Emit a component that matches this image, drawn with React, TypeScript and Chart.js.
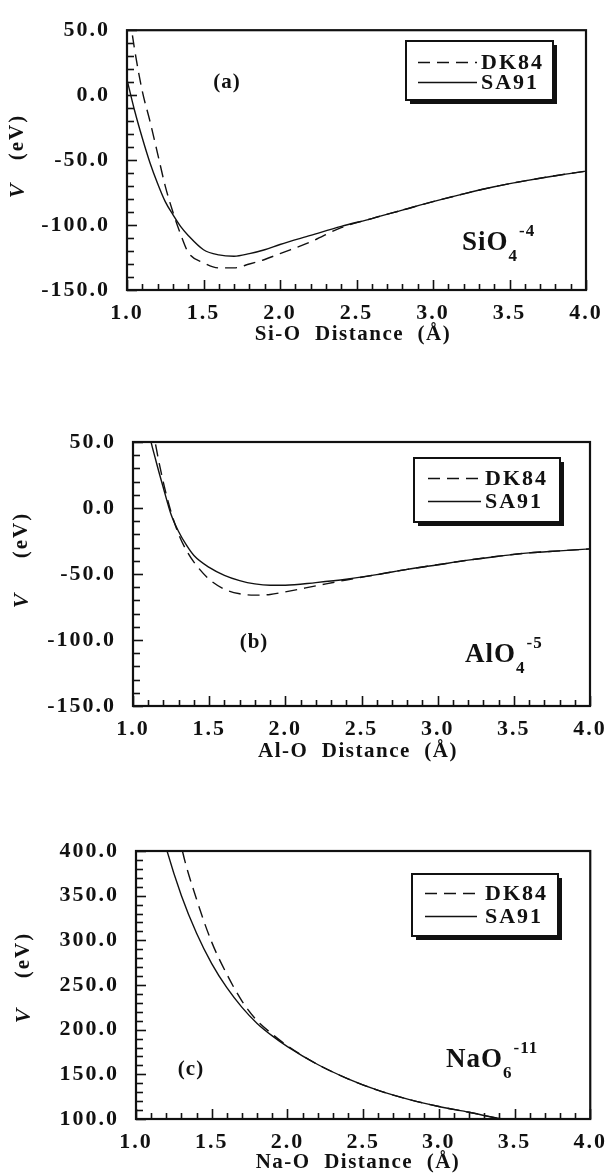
import React, { useEffect, useRef } from "react";
import { Chart, registerables } from "chart.js";

Chart.register(...registerables);

// ---------- data ----------
// Panel (a): Si-O
const siX = [1.0, 1.05, 1.1, 1.15, 1.2, 1.25, 1.3, 1.35, 1.4, 1.5, 1.6, 1.7, 1.8, 1.9, 2.0, 2.2, 2.4, 2.6, 2.8, 3.0, 3.2, 3.4, 3.6, 3.8, 4.0];
const siSA91 = [12, -12, -33, -52, -68, -82, -92, -101, -108, -119, -123, -124, -122, -119, -115, -108, -101, -95, -88.5, -82, -76, -70.5, -66, -62, -58.5];
const siDK84 = [75, 35, 3, -20, -45, -70, -90, -107, -121, -129, -133, -133, -130, -126.5, -122, -113, -102, -95, -88.5, -82, -76, -70.5, -66, -62, -58.5];

// Panel (b): Al-O
const alX = [1.0, 1.05, 1.1, 1.15, 1.2, 1.25, 1.3, 1.35, 1.4, 1.5, 1.6, 1.7, 1.8, 1.9, 2.0, 2.2, 2.4, 2.6, 2.8, 3.0, 3.2, 3.4, 3.6, 3.8, 4.0];
const alSA91 = [150, 100, 60, 36, 15, -5, -18, -28, -36, -45, -51, -55, -57.5, -58.5, -58.5, -56.5, -54, -50.5, -46.5, -43, -39.5, -36.5, -34, -32.5, -31];
const alDK84 = [220, 140, 82, 47, 19, -3, -20, -32, -41, -54, -61.5, -65, -66, -65.5, -63.5, -59, -54.5, -50.5, -46.5, -43, -39.5, -36.5, -34, -32.5, -31];

// Panel (c): Na-O
const naX = [1.0, 1.1, 1.2, 1.3, 1.4, 1.5, 1.6, 1.7, 1.8, 1.9, 2.0, 2.2, 2.4, 2.6, 2.8, 3.0, 3.2, 3.4, 3.6, 3.8, 4.0];
const naSA91 = [560, 470, 403, 350, 308, 274, 247, 225, 207, 193, 181, 161, 145, 132, 122, 114, 107.5, 100.5, 95, 90, 86];
const naDK84 = [800, 620, 500, 405, 346, 298, 262, 232, 210, 195, 182, 161, 145, 132, 122, 114, 107.5, 100.5, 95, 90, 86];

// tick labels
const xTicks = [1.0, 1.5, 2.0, 2.5, 3.0, 3.5, 4.0];
const yTicksAB = [-150, -100, -50, 0, 50];
const yTicksC = [100, 150, 200, 250, 300, 350, 400];

const seriesNames = ["DK84", "SA91"];

// ---------- styles / layout ----------
const INK = "#111111";
const SERIF = "'Liberation Serif', 'Times New Roman', serif";
const W = 614;
const X_AXIS_H = 40;

type Spec = {
  canvasTop: number;
  height: number;
  left: number;
  top: number;
  right: number;
  bottom: number;
  xs: number[];
  dk: number[];
  sa: number[];
  yTicks: number[];
  yMinorStep: number;
  xTitle: string;
  xTitleX: number;
  xTitleY: number;
  yTitleX: number;
  vY: number;
  evY: number;
  legend: { x0: number; y0: number; x1: number; y1: number; row1: number; row2: number; lx0: number; lx1: number; tx: number };
  tag: { text: string; x: number; y: number };
  formula: { base: string; sub: string; sup: string; x: number; y: number };
};

const panels: Spec[] = [
  {
    canvasTop: 0, height: 400, left: 127, top: 21, right: 586, bottom: 290,
    xs: siX, dk: siDK84, sa: siSA91, yTicks: yTicksAB, yMinorStep: 10,
    xTitle: "Si-O  Distance  (Å)", xTitleX: 353, xTitleY: 335,
    yTitleX: 18, vY: 190, evY: 137,
    legend: { x0: 406, y0: 41, x1: 553, y1: 100, row1: 62, row2: 82, lx0: 418, lx1: 477, tx: 481 },
    tag: { text: "(a)", x: 227, y: 83 },
    formula: { base: "SiO", sub: "4", sup: "-4", x: 462, y: 250 },
  },
  {
    canvasTop: 400, height: 400, left: 133, top: 442, right: 590, bottom: 706,
    xs: alX, dk: alDK84, sa: alSA91, yTicks: yTicksAB, yMinorStep: 10,
    xTitle: "Al-O  Distance  (Å)", xTitleX: 358, xTitleY: 752,
    yTitleX: 22, vY: 600, evY: 535,
    legend: { x0: 414, y0: 458, x1: 560, y1: 522, row1: 478, row2: 501, lx0: 428, lx1: 481, tx: 485 },
    tag: { text: "(b)", x: 254, y: 643 },
    formula: { base: "AlO", sub: "4", sup: "-5", x: 465, y: 662 },
  },
  {
    canvasTop: 800, height: 373, left: 136, top: 851, right: 592, bottom: 1119,
    xs: naX, dk: naDK84, sa: naSA91, yTicks: yTicksC, yMinorStep: 10,
    xTitle: "Na-O  Distance  (Å)", xTitleX: 358, xTitleY: 1163,
    yTitleX: 24, vY: 1015, evY: 955,
    legend: { x0: 412, y0: 874, x1: 558, y1: 936, row1: 893, row2: 916, lx0: 425, lx1: 477, tx: 485 },
    tag: { text: "(c)", x: 191, y: 1070 },
    formula: { base: "NaO", sub: "6", sup: "-11", x: 446, y: 1067 },
  },
];

function decorPlugin(p: Spec) {
  const T = p.canvasTop;
  return {
    id: "decor",
    beforeDraw(chart: any) {
      (chart.ctx as any).letterSpacing = "2px";
    },
    afterDraw(chart: any) {
      const ctx = chart.ctx as CanvasRenderingContext2D;
      const { left, top, right, bottom } = chart.chartArea;
      const xs = chart.scales.x;
      const ys = chart.scales.y;
      ctx.save();
      ctx.strokeStyle = INK;
      ctx.fillStyle = INK;

      // inward tick marks
      ctx.lineWidth = 1.6;
      const xmin = xs.min, xmax = xs.max;
      for (let i = 0; ; i++) {
        const v = xmin + i * 0.1;
        if (v > xmax + 1e-9) break;
        const px = Math.round(xs.getPixelForValue(v)) + 0.5;
        const major = Math.abs(v * 2 - Math.round(v * 2)) < 1e-6;
        const len = major ? 10 : 6;
        ctx.beginPath();
        ctx.moveTo(px, bottom);
        ctx.lineTo(px, bottom - len);
        ctx.stroke();
      }
      const ymin = ys.min, ymax = ys.max;
      for (let i = 0; ; i++) {
        const v = ymin + i * p.yMinorStep;
        if (v > ymax + 1e-9) break;
        const py = Math.round(ys.getPixelForValue(v)) + 0.5;
        const major = Math.abs(v / 50 - Math.round(v / 50)) < 1e-6;
        const len = major ? 10 : 7;
        ctx.beginPath();
        ctx.moveTo(left, py);
        ctx.lineTo(left + len, py);
        ctx.stroke();
      }

      // frame
      ctx.lineWidth = 2.2;
      ctx.strokeRect(left, top, right - left, bottom - top);

      // legend box with shadow
      const L = p.legend;
      const y0 = L.y0 - T, y1 = L.y1 - T;
      ctx.fillStyle = "#ffffff";
      ctx.fillRect(L.x0, y0, L.x1 - L.x0, y1 - y0);
      ctx.fillStyle = INK;
      ctx.fillRect(L.x1, y0 + 4, 4, y1 - y0);
      ctx.fillRect(L.x0 + 4, y1, L.x1 - L.x0, 4);
      ctx.lineWidth = 2;
      ctx.strokeRect(L.x0, y0, L.x1 - L.x0, y1 - y0);

      const dsets = chart.data.datasets;
      const rows = [L.row1 - T, L.row2 - T];
      (ctx as any).letterSpacing = "2px";
      ctx.font = `bold 22px ${SERIF}`;
      ctx.textBaseline = "middle";
      ctx.textAlign = "left";
      dsets.forEach((d: any, i: number) => {
        ctx.save();
        ctx.lineWidth = 1.4;
        ctx.setLineDash(d.borderDash || []);
        ctx.beginPath();
        ctx.moveTo(L.lx0, rows[i] + 0.5);
        ctx.lineTo(L.lx1, rows[i] + 0.5);
        ctx.stroke();
        ctx.restore();
        ctx.fillText(d.label, L.tx, rows[i] + 1);
      });

      // panel tag
      (ctx as any).letterSpacing = "1px";
      ctx.font = `bold 21px ${SERIF}`;
      ctx.textAlign = "center";
      ctx.fillText(p.tag.text, p.tag.x, p.tag.y - T);

      // formula
      const F = p.formula;
      ctx.textAlign = "left";
      ctx.textBaseline = "alphabetic";
      (ctx as any).letterSpacing = "1px";
      ctx.font = `bold 27px ${SERIF}`;
      ctx.fillText(F.base, F.x, F.y - T);
      const w1 = ctx.measureText(F.base).width;
      ctx.font = `bold 17px ${SERIF}`;
      ctx.fillText(F.sub, F.x + w1, F.y - T + 11);
      const w2 = ctx.measureText(F.sub).width;
      ctx.fillText(F.sup, F.x + w1 + w2 + 1, F.y - T - 14);

      // x title
      (ctx as any).letterSpacing = "1.5px";
      ctx.font = `bold 21px ${SERIF}`;
      ctx.textAlign = "center";
      ctx.textBaseline = "middle";
      ctx.fillText(p.xTitle, p.xTitleX, p.xTitleY - T);

      // y title (rotated)
      (ctx as any).letterSpacing = "2px";
      ctx.save();
      ctx.translate(p.yTitleX, p.evY - T);
      ctx.rotate(-Math.PI / 2);
      ctx.font = `bold 21px ${SERIF}`;
      ctx.fillText("(eV)", 0, 0);
      ctx.restore();
      ctx.save();
      ctx.translate(p.yTitleX, p.vY - T);
      ctx.rotate(-Math.PI / 2);
      ctx.font = `italic bold 22px ${SERIF}`;
      ctx.fillText("V", 0, 0);
      ctx.restore();

      ctx.restore();
    },
  };
}

function Panel({ p }: { p: Spec }) {
  const ref = useRef<HTMLCanvasElement>(null);
  useEffect(() => {
    const canvas = ref.current!;
    const T = p.canvasTop;
    const bottomLocal = p.bottom - T;
    const tickFont = { family: SERIF, size: 22, weight: "bold" as const };
    const chart = new Chart(canvas, {
      type: "line",
      data: {
        datasets: [
          {
            label: seriesNames[0],
            data: p.xs.map((x, i) => ({ x, y: p.dk[i] })),
            borderColor: INK,
            borderWidth: 1.4,
            borderDash: [12, 7],
            pointRadius: 0,
            cubicInterpolationMode: "monotone",
            fill: false,
          },
          {
            label: seriesNames[1],
            data: p.xs.map((x, i) => ({ x, y: p.sa[i] })),
            borderColor: INK,
            borderWidth: 1.4,
            borderDash: [],
            pointRadius: 0,
            cubicInterpolationMode: "monotone",
            fill: false,
          },
        ],
      },
      options: {
        responsive: false,
        animation: false,
        devicePixelRatio: 1,
        events: [],
        layout: {
          padding: {
            top: p.top - T,
            right: W - p.right,
            bottom: p.height - bottomLocal - X_AXIS_H,
            left: 0,
          },
        },
        plugins: {
          legend: { display: false },
          tooltip: { enabled: false },
        },
        scales: {
          x: {
            type: "linear",
            min: 1,
            max: 4,
            grid: { display: false, drawTicks: false },
            border: { display: false },
            ticks: {
              color: INK,
              font: tickFont,
              padding: 10,
              maxRotation: 0,
              autoSkip: false,
              callback: (v: any) => Number(v).toFixed(1),
            },
            afterBuildTicks: (s: any) => {
              s.ticks = xTicks.map((v) => ({ value: v }));
            },
            afterFit: (s: any) => {
              s.height = X_AXIS_H;
            },
          },
          y: {
            type: "linear",
            min: p.yTicks[0],
            max: p.yTicks[p.yTicks.length - 1],
            grid: { display: false, drawTicks: false },
            border: { display: false },
            ticks: {
              color: INK,
              font: tickFont,
              padding: 17,
              autoSkip: false,
              callback: (v: any) => Number(v).toFixed(1),
            },
            afterBuildTicks: (s: any) => {
              s.ticks = p.yTicks.map((v) => ({ value: v }));
            },
            afterFit: (s: any) => {
              s.width = p.left;
            },
          },
        },
      },
      plugins: [decorPlugin(p)],
    });
    return () => chart.destroy();
  }, [p]);
  return (
    <canvas
      ref={ref}
      width={W}
      height={p.height}
      style={{ position: "absolute", left: 0, top: p.canvasTop, width: W, height: p.height, display: "block" }}
    />
  );
}

export default function App() {
  return (
    <div style={{ position: "absolute", left: 0, top: 0, width: W, height: 1173, background: "#ffffff", overflow: "hidden" }}>
      {panels.map((p, i) => (
        <Panel key={i} p={p} />
      ))}
    </div>
  );
}
